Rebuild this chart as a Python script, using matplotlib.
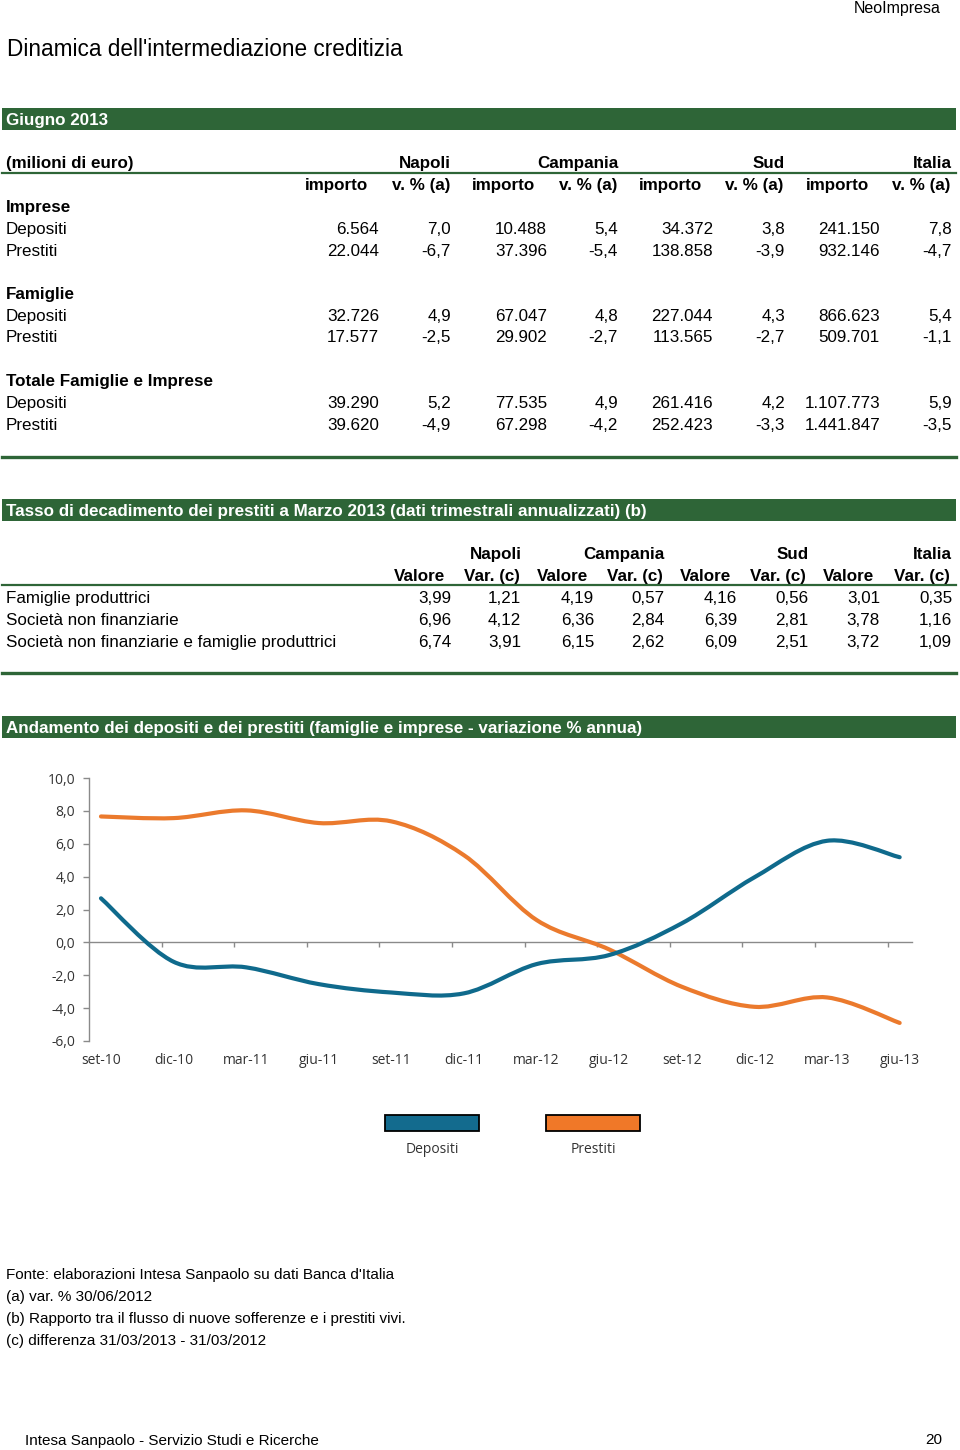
import numpy as np
import matplotlib
matplotlib.use("Agg")
import matplotlib.pyplot as plt
from matplotlib.patches import Rectangle
from matplotlib.lines import Line2D
from matplotlib.path import Path
from matplotlib.patches import PathPatch

# ---------------- data ----------------
regions = ["Napoli", "Campania", "Sud", "Italia"]
t1_groups = ["Imprese", "Famiglie", "Totale Famiglie e Imprese"]
t1_rows = ["Depositi", "Prestiti"]
# importo (milioni di euro) per group/row/region
imp_importo = [[6564, 10488, 34372, 241150], [22044, 37396, 138858, 932146]]
imp_var = [[7.0, 5.4, 3.8, 7.8], [-6.7, -5.4, -3.9, -4.7]]
fam_importo = [[32726, 67047, 227044, 866623], [17577, 29902, 113565, 509701]]
fam_var = [[4.9, 4.8, 4.3, 5.4], [-2.5, -2.7, -2.7, -1.1]]
tot_importo = [[39290, 77535, 261416, 1107773], [39620, 67298, 252423, 1441847]]
tot_var = [[5.2, 4.9, 4.2, 5.9], [-4.9, -4.2, -3.3, -3.5]]

t2_rows = ["Famiglie produttrici", "Società non finanziarie",
           "Società non finanziarie e famiglie produttrici"]
t2_valore = [[3.99, 4.19, 4.16, 3.01], [6.96, 6.36, 6.39, 3.78], [6.74, 6.15, 6.09, 3.72]]
t2_var = [[1.21, 0.57, 0.56, 0.35], [4.12, 2.84, 2.81, 1.16], [3.91, 2.62, 2.51, 1.09]]

months = ["set-10", "dic-10", "mar-11", "giu-11", "set-11", "dic-11",
          "mar-12", "giu-12", "set-12", "dic-12", "mar-13", "giu-13"]
depositi = [2.68, -1.18, -1.52, -2.54, -3.05, -3.1, -1.32, -0.77, 1.16, 3.96, 6.18, 5.18]
prestiti = [7.66, 7.56, 8.03, 7.26, 7.36, 5.3, 1.36, -0.43, -2.7, -3.92, -3.35, -4.9]

# ---------------- styling ----------------
W, H = 960, 1450
GREEN = "#2e6537"
BLUE = "#0f6a8c"
ORANGE = "#eb7a2d"
SANS = "Liberation Sans"
CHART_FONT = "Open Sans"
TS = 12.25  # table font size
DY = 1.5    # vertical text offset in px

fig = plt.figure(figsize=(W / 100, H / 100), dpi=100)
fig.patch.set_facecolor("white")


def fx(x):
    return x / W


def fy(y):
    return 1 - y / H


def txt(x, y, s, ha="left", size=TS, weight="normal", color="black", family=SANS):
    fig.text(fx(x), fy(y + DY), s, ha=ha, va="center", fontsize=size, fontweight=weight,
             color=color, family=family)


def hline(y, lw, x0=2, x1=956, color=GREEN):
    fig.add_artist(Line2D([fx(x0), fx(x1)], [fy(y), fy(y)], lw=lw, color=color,
                          transform=fig.transFigure))


def bar(y0, y1, label):
    fig.add_artist(Rectangle((fx(2), fy(y1)), fx(954), (y1 - y0) / H,
                             transform=fig.transFigure, facecolor=GREEN, edgecolor="none"))
    txt(6, (y0 + y1) / 2, label, size=TS, weight="bold", color="white")


def fmt_int(v):
    return f"{v:,}".replace(",", ".")


def fmt_dec(v, n):
    return f"{v:.{n}f}".replace(".", ",")


# header
txt(941, 7, "NeoImpresa", ha="right", size=11.5)
txt(7, 47.5, "Dinamica dell'intermediazione creditizia", size=16.3)

# ---------------- table 1 ----------------
bar(108, 130, "Giugno 2013")
txt(6, 162, "(milioni di euro)", weight="bold")
reg_right = [451, 618, 785, 952]
imp_hdr_right = [368, 535, 702, 869]
var_hdr_right = [450, 617, 783, 950]
imp_val_right = [379, 547, 713, 880]
var_val_right = [451, 618, 785, 952]
for r, xr in zip(regions, reg_right):
    txt(xr, 162, r, ha="right", weight="bold")
hline(172.5, 1.6)
for a, b in zip(imp_hdr_right, var_hdr_right):
    txt(a, 184, "importo", ha="right", weight="bold")
    txt(b, 184, "v. % (a)", ha="right", weight="bold")

group_y = [206, 293, 380]
group_data = [(imp_importo, imp_var), (fam_importo, fam_var), (tot_importo, tot_var)]
for g, gy, (imps, vars_) in zip(t1_groups, group_y, group_data):
    txt(6, gy, g, weight="bold")
    for k, rname in enumerate(t1_rows):
        ry = gy + 22 + 21.5 * k
        txt(6, ry, rname)
        for j in range(4):
            txt(imp_val_right[j], ry, fmt_int(imps[k][j]), ha="right")
            txt(var_val_right[j], ry, fmt_dec(vars_[k][j], 1), ha="right")
hline(456.5, 2.4)

# ---------------- table 2 ----------------
bar(499, 521, "Tasso di decadimento dei prestiti a Marzo 2013 (dati trimestrali annualizzati) (b)")
reg2_right = [522, 665, 809, 952]
val_hdr_right = [445, 588, 731, 874]
var2_hdr_right = [520, 663, 806, 950]
val_right = [451, 594, 737, 880]
var2_right = [521, 664, 808, 952]
for r, xr in zip(regions, reg2_right):
    txt(xr, 553, r, ha="right", weight="bold")
for a, b in zip(val_hdr_right, var2_hdr_right):
    txt(a, 575, "Valore", ha="right", weight="bold")
    txt(b, 575, "Var. (c)", ha="right", weight="bold")
hline(585.5, 1.6)
for i, rname in enumerate(t2_rows):
    ry = 597 + 22 * i
    txt(6, ry, rname)
    for j in range(4):
        txt(val_right[j], ry, fmt_dec(t2_valore[i][j], 2), ha="right")
        txt(var2_right[j], ry, fmt_dec(t2_var[i][j], 2), ha="right")
hline(672.5, 2.4)

# ---------------- chart ----------------
bar(716, 738, "Andamento dei depositi e dei prestiti (famiglie e imprese - variazione % annua)")

ax = fig.add_axes([fx(89), fy(1041), (912 - 89) / W, (1041 - 778) / H])
n = len(months)
x = np.arange(n)
x0, x1 = -0.165, n - 1 + 0.17
ax.set_xlim(x0, x1)
ax.set_ylim(-6, 10)
for s in ["top", "right", "bottom"]:
    ax.spines[s].set_visible(False)
ax.spines["left"].set_color("#8a8a8a")
ax.spines["left"].set_linewidth(1)
yt = np.arange(-6, 11, 2)
ax.set_yticks(yt)
ax.set_yticklabels([fmt_dec(v, 1) for v in yt], family=CHART_FONT, fontsize=10, color="#333333")
ax.tick_params(axis="y", length=4, width=1, color="#8a8a8a", pad=6)
ax.set_xticks(x)
ax.set_xticklabels(months, family=CHART_FONT, fontsize=10, color="#333333")
ax.tick_params(axis="x", length=0, pad=9)

# zero axis line with category boundary ticks
ax.plot([x0, x1], [0, 0], color="#8a8a8a", lw=1, zorder=1, clip_on=False)
ax.vlines(x[:-1] + 0.835, -0.27, 0, color="#8a8a8a", lw=1, zorder=1)


def smooth_path(xs, ys):
    pts = np.column_stack([xs, ys]).astype(float)
    ext = np.vstack([pts[0], pts, pts[-1]])
    verts = [pts[0]]
    codes = [Path.MOVETO]
    for i in range(len(pts) - 1):
        p0, p1, p2, p3 = ext[i], ext[i + 1], ext[i + 2], ext[i + 3]
        c1 = p1 + (p2 - p0) / 6.0
        c2 = p2 - (p3 - p1) / 6.0
        verts += [c1, c2, p2]
        codes += [Path.CURVE4] * 3
    return Path(verts, codes)


for ys, col in [(prestiti, ORANGE), (depositi, BLUE)]:
    ax.add_patch(PathPatch(smooth_path(x, ys), facecolor="none", edgecolor=col,
                           lw=3, capstyle="round", joinstyle="round", zorder=3))

# legend
for (lx, label, col) in [(385, "Depositi", "#136b8e"), (546, "Prestiti", "#f07828")]:
    fig.add_artist(Rectangle((fx(lx), fy(1131)), fx(94), 16 / H, transform=fig.transFigure,
                             facecolor=col, edgecolor="black", lw=1.3))
    txt(lx + 47, 1148, label, ha="center", size=10, color="#333333", family=CHART_FONT)

# ---------------- footnotes ----------------
notes = ["Fonte: elaborazioni Intesa Sanpaolo su dati Banca d'Italia",
         "(a) var. % 30/06/2012",
         "(b) Rapporto tra il flusso di nuove sofferenze e i prestiti vivi.",
         "(c) differenza 31/03/2013 - 31/03/2012"]
for i, s in enumerate(notes):
    txt(6, 1274 + 21.7 * i, s, size=10.95)

txt(25, 1439, "Intesa Sanpaolo - Servizio Studi e Ricerche", size=10.95)
txt(942, 1439, "20", ha="right", size=10.95)

fig.savefig("out.png", dpi=100, facecolor="white")
